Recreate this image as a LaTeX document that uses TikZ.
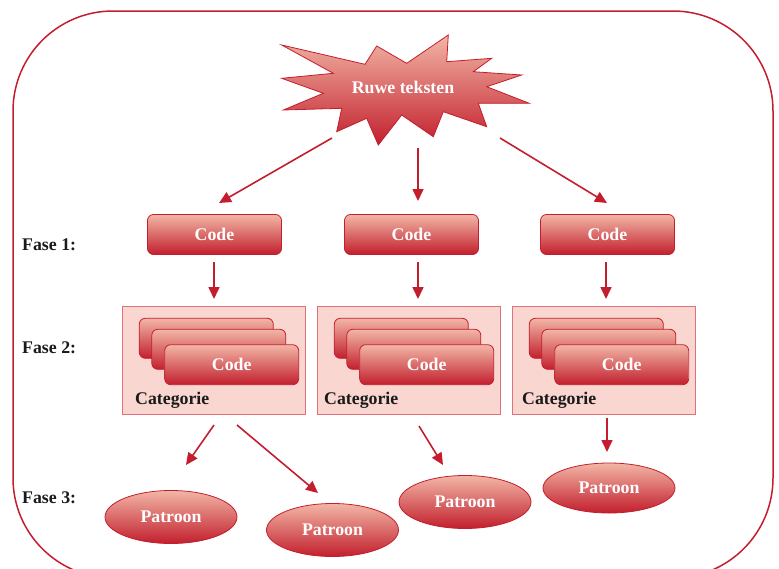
\documentclass[tikz,border=0pt]{standalone}
\usepackage{fontspec}
\setmainfont{Liberation Serif}
\usetikzlibrary{arrows.meta,shapes.geometric}
\definecolor{redline}{HTML}{C41E2E}
\definecolor{redtop}{HTML}{F2B6A6}
\definecolor{redbot}{HTML}{C21F2D}
\definecolor{catfill}{HTML}{F9D6CF}
\definecolor{catline}{HTML}{E0707A}
\definecolor{darktext}{HTML}{1A1A1A}
\tikzset{
  txt/.style={font=\fontsize{17.8}{21}\selectfont\bfseries},
  codebox/.style={txt, rectangle, rounded corners=6pt, draw=redline, line width=0.8pt,
    top color=redtop, bottom color=redbot, text=white, minimum width=134pt, minimum height=40pt, inner sep=0pt},
  catbox/.style={rectangle, draw=catline, fill=catfill, line width=0.8pt, minimum width=183pt, minimum height=108pt, inner sep=0pt},
  patroon/.style={txt, ellipse, draw=redline, line width=0.8pt, top color=redtop, bottom color=redbot,
    text=white, minimum width=132pt, minimum height=53pt, inner sep=0pt},
  faselabel/.style={txt, text=darktext, anchor=base west, inner sep=0pt},
  catlabel/.style={txt, text=darktext, anchor=base west, inner sep=0pt},
  arr/.style={draw=redline, line width=1.6pt, -{Triangle[length=12pt,width=11pt]}},
}
\begin{document}
\begin{tikzpicture}[x=1pt,y=-1pt]
\useasboundingbox (0,0) rectangle (779,568);
% outer frame
\draw[redline, line width=1.5pt, rounded corners=100pt] (13,11) rectangle (773,578);

% starburst
\shade[top color=redtop, bottom color=redbot, draw=redline, line width=0.8pt]
 (281.7,45) -- (365,64.3) -- (376.7,46) -- (406.7,63.3) -- (448.3,35) -- (446.7,61.7)
 -- (491.7,58.3) -- (473.3,71.7) -- (521.7,75) -- (486.7,86.7) -- (529.3,103.3)
 -- (478.3,103.3) -- (486.7,126.7) -- (443.3,111.7) -- (433.3,136.7) -- (401.7,115)
 -- (378.3,145) -- (366.7,118.3) -- (336.7,131.7) -- (341.7,108.3) -- (283.3,110)
 -- (323.3,93.3) -- (281.7,78.3) -- (333.3,73.3) -- cycle;
\node[txt, text=white] (ruwe) at (403,87) {Ruwe teksten};

% phase labels
\node[faselabel] (f1) at (22,250) {Fase 1:};
\node[faselabel] (f2) at (22,353) {Fase 2:};
\node[faselabel] (f3) at (22,503) {Fase 3:};

% phase 1 codes
\node[codebox] (c1) at (214.5,234.5) {Code};
\node[codebox] (c2) at (411.5,234.5) {Code};
\node[codebox] (c3) at (607.5,234.5) {Code};

% arrows from starburst
\coordinate (s1) at (332,138); \coordinate (e1) at (219,203);
\coordinate (s2) at (418,148); \coordinate (e2) at (418,201);
\coordinate (s3) at (500,138); \coordinate (e3) at (607,203);
\draw[arr] (s1) -- (e1);
\draw[arr] (s2) -- (e2);
\draw[arr] (s3) -- (e3);

% arrows phase 1 -> 2
\coordinate (a1) at (214,262); \coordinate (b1) at (214,299);
\coordinate (a2) at (418,262); \coordinate (b2) at (418,299);
\coordinate (a3) at (606,262); \coordinate (b3) at (606,299);
\draw[arr] (a1) -- (b1);
\draw[arr] (a2) -- (b2);
\draw[arr] (a3) -- (b3);

% category boxes
\foreach \i/\dx/\lx in {1/0/135,2/195/324,3/390/522}{
  \node[catbox] (cat\i) at (213.5+\dx,360) {};
  \node[codebox] (k\i a) at (206.3+\dx,338.3) {};
  \node[codebox] (k\i b) at (218.8+\dx,349.3) {};
  \node[codebox] (k\i c) at (231.7+\dx,364.7) {Code};
  \node[catlabel] (cl\i) at (\lx,404) {Categorie};
}

% arrows phase 2 -> 3
\coordinate (p1) at (214,425); \coordinate (q1) at (186,465);
\coordinate (p2) at (237,425); \coordinate (q2) at (318,493);
\coordinate (p3) at (419,426); \coordinate (q3) at (443,465);
\coordinate (p4) at (607,418); \coordinate (q4) at (607,452);
\draw[arr] (p1) -- (q1);
\draw[arr] (p2) -- (q2);
\draw[arr] (p3) -- (q3);
\draw[arr] (p4) -- (q4);

% patterns
\node[patroon] (pt1) at (171,517) {Patroon};
\node[patroon] (pt2) at (332.5,530) {Patroon};
\node[patroon] (pt3) at (465,502) {Patroon};
\node[patroon, minimum height=50pt] (pt4) at (609,488) {Patroon};
\end{tikzpicture}
\end{document}
